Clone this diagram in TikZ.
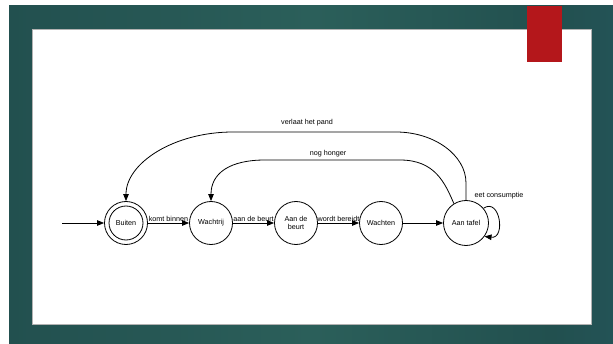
\documentclass[tikz,border=0pt]{standalone}
\usepackage{fontspec}
\setmainfont{Liberation Sans}
\usetikzlibrary{arrows.meta}
\definecolor{bgA}{HTML}{16394A}
\definecolor{bgB}{HTML}{22504F}
\definecolor{bgC}{HTML}{2B5F5A}
\definecolor{bgD}{HTML}{245459}
\definecolor{bgE}{HTML}{143546}
\definecolor{slidered}{HTML}{B4171B}
\pgfdeclarehorizontalshading{slidebg}{100bp}{color(0bp)=(bgA); color(25bp)=(bgB); color(50bp)=(bgC); color(70bp)=(bgB); color(77bp)=(bgD); color(88bp)=(bgA); color(100bp)=(bgE)}
\tikzset{
  statebox/.style={draw, circle, minimum size=43pt, inner sep=0pt, line width=0.8pt,
    font=\fontsize{7.2}{8.2}\selectfont, align=center},
  edge/.style={-{Triangle[length=7pt,width=5.5pt]}, line width=0.8pt},
  lbl/.style={font=\fontsize{7.2}{8.2}\selectfont, inner sep=1pt}
}
\begin{document}
\begin{tikzpicture}[x=1pt,y=1pt]
\useasboundingbox (0,0) rectangle (613,343);
\fill[white] (0,0) rectangle (613,343);
\shade[shading=slidebg] (9,0) rectangle (613,337);
\fill[white, draw=gray!60, line width=0.6pt] (32,19) rectangle (591,314);
\fill[slidered] (527,281) rectangle (562,337);

\node[statebox] (buiten) at (126,120) {Buiten};
\draw[line width=0.8pt] (buiten.center) circle (17pt);
\node[statebox] (wachtrij) at (211,120) {Wachtrij};
\node[statebox] (beurt) at (296,120) {Aan de\\beurt};
\node[statebox] (wachten) at (381,120) {Wachten};
\node[statebox, minimum size=45pt] (tafel) at (466,120) {Aan tafel};
\coordinate (start) at (62,120);

\draw[edge] (start) -- (buiten);
\draw[edge] (buiten) -- node[lbl,above] (l1) {komt binnen} (wachtrij);
\draw[edge] (wachtrij) -- node[lbl,above] (l2) {aan de beurt} (beurt);
\draw[edge] (beurt) -- node[lbl,above] (l3) {wordt bereidt} (wachten);
\draw[edge] (wachten) -- (tafel);

\draw[edge] (tafel.north) -- (466,160) .. controls (466,188) and (434,211) .. (396,211)
  -- (233,211) .. controls (174,211) and (126,180) .. (buiten.north);
\node[lbl] (l4) at (307,220) {verlaat het pand};

\draw[edge] (tafel.122) .. controls (445,160) and (435,183) .. (400,183)
  -- (265,183) .. controls (230,183) and (211,170) .. (wachtrij.north);
\node[lbl] (l5) at (328,189) {nog honger};

\draw[edge] (tafel.40) .. controls (500,146) and (506,104) .. (tafel.-36);
\node[lbl] (l6) at (499,147) {eet consumptie};
\end{tikzpicture}
\end{document}
